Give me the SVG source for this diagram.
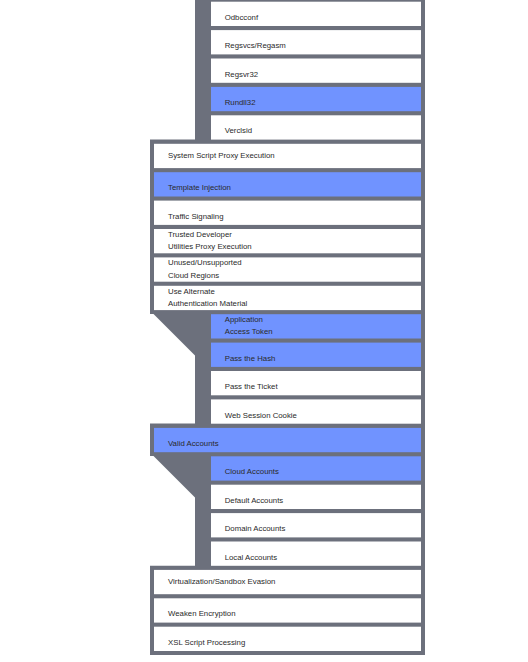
<svg xmlns="http://www.w3.org/2000/svg" width="528" height="662" viewBox="0 0 528 662">
<style>
.bg{fill:#6c707c}
.w{fill:#ffffff}
.b{fill:#7093ff}
text{font-family:"Liberation Sans",Arial,sans-serif;font-size:7.8px;fill:#2a2a2a}
</style>
<rect width="528" height="662" fill="#ffffff"/>
<g id="connectors">
<path class="bg" d="M195,0 H425 V655 H150 V565.7 H195 V497.5 L153.5,456 H150 V423.6 H195 V355.5 L153.5,314 H150 V139.6 H195 Z"/>
</g>
<g id="n-odbcconf"><rect class="w" x="211" y="1.7" width="210" height="24.3"/><text x="224.7" y="19.6">Odbcconf</text></g>
<g id="n-regsvcs"><rect class="w" x="211" y="30.1" width="210" height="24.3"/><text x="224.7" y="48">Regsvcs/Regasm</text></g>
<g id="n-regsvr32"><rect class="w" x="211" y="58.5" width="210" height="24.3"/><text x="224.7" y="76.5">Regsvr32</text></g>
<g id="n-rundll32"><rect class="b" x="211" y="86.9" width="210" height="24.3"/><text x="224.7" y="104.9">Rundll32</text></g>
<g id="n-verclsid"><rect class="w" x="211" y="115.3" width="210" height="24.3"/><text x="224.7" y="133.3">Verclsid</text></g>
<g id="n-system-script"><rect class="w" x="154" y="143.8" width="267" height="24.3"/><text x="168" y="158.2">System Script Proxy Execution</text></g>
<g id="n-template"><rect class="b" x="154" y="172.2" width="267" height="24.3"/><text x="168" y="190.1">Template Injection</text></g>
<g id="n-traffic"><rect class="w" x="154" y="200.6" width="267" height="24.3"/><text x="168" y="218.6">Traffic Signaling</text></g>
<g id="n-trusted"><rect class="w" x="154" y="229" width="267" height="24.3"/><text x="168" y="237.1">Trusted Developer</text><text x="168" y="249.2">Utilities Proxy Execution</text></g>
<g id="n-unused"><rect class="w" x="154" y="257.4" width="267" height="24.3"/><text x="168" y="265.3">Unused/Unsupported</text><text x="168" y="278">Cloud Regions</text></g>
<g id="n-use-alternate"><rect class="w" x="154" y="285.8" width="267" height="24.3"/><text x="168" y="293.9">Use Alternate</text><text x="168" y="306.2">Authentication Material</text></g>
<g id="n-app-token"><rect class="b" x="211" y="314.2" width="210" height="24.3"/><text x="224.7" y="322.3">Application</text><text x="224.7" y="334.4">Access Token</text></g>
<g id="n-pass-hash"><rect class="b" x="211" y="342.6" width="210" height="24.3"/><text x="224.7" y="361">Pass the Hash</text></g>
<g id="n-pass-ticket"><rect class="w" x="211" y="371" width="210" height="24.3"/><text x="224.7" y="389.2">Pass the Ticket</text></g>
<g id="n-web-session"><rect class="w" x="211" y="399.4" width="210" height="24.3"/><text x="224.7" y="417.9">Web Session Cookie</text></g>
<g id="n-valid-accounts"><rect class="b" x="154" y="427.9" width="267" height="24.3"/><text x="168" y="446">Valid Accounts</text></g>
<g id="n-cloud-accounts"><rect class="b" x="211" y="456.3" width="210" height="24.3"/><text x="224.7" y="474.4">Cloud Accounts</text></g>
<g id="n-default-accounts"><rect class="w" x="211" y="484.7" width="210" height="24.3"/><text x="224.7" y="502.8">Default Accounts</text></g>
<g id="n-domain-accounts"><rect class="w" x="211" y="513.1" width="210" height="24.3"/><text x="224.7" y="531.2">Domain Accounts</text></g>
<g id="n-local-accounts"><rect class="w" x="211" y="541.5" width="210" height="24.3"/><text x="224.7" y="559.7">Local Accounts</text></g>
<g id="n-virtualization"><rect class="w" x="154" y="569.9" width="267" height="24.3"/><text x="168" y="584.2">Virtualization/Sandbox Evasion</text></g>
<g id="n-weaken"><rect class="w" x="154" y="598.3" width="267" height="24.3"/><text x="168" y="616.3">Weaken Encryption</text></g>
<g id="n-xsl"><rect class="w" x="154" y="626.7" width="267" height="24.3"/><text x="168" y="645">XSL Script Processing</text></g>
</svg>
